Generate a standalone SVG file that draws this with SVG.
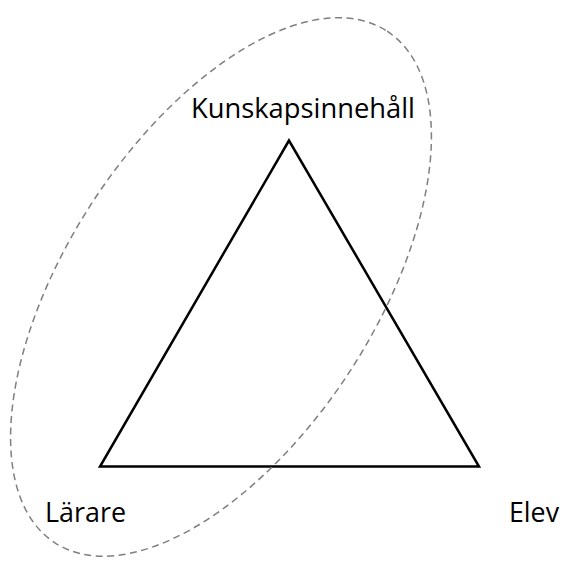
<svg xmlns="http://www.w3.org/2000/svg" width="563" height="565" viewBox="0 0 563 565">
<style>
.lbl{font-family:"Open Sans","Noto Sans","Liberation Sans",sans-serif;font-size:28px;fill:#000}
</style>
<rect width="563" height="565" fill="#fff"/>
<g id="connectors">
<polygon id="triangle" points="289,140.5 100,466.5 479,466.5" fill="none" stroke="#000" stroke-width="2.5" stroke-linejoin="miter"/>
</g>
<g id="ellipse">
<ellipse cx="221" cy="287" rx="305" ry="154" transform="rotate(-57 221 287)" fill="none" stroke="#7f7f7f" stroke-width="1.5" stroke-dasharray="7,4.5"/>
</g>
<g id="node-kunskap"><text class="lbl" x="191" y="118" textLength="224" lengthAdjust="spacingAndGlyphs">Kunskapsinnehåll</text></g>
<g id="node-larare"><text class="lbl" x="45" y="522" textLength="81" lengthAdjust="spacingAndGlyphs">Lärare</text></g>
<g id="node-elev"><text class="lbl" x="509" y="522" textLength="50" lengthAdjust="spacingAndGlyphs">Elev</text></g>
</svg>
